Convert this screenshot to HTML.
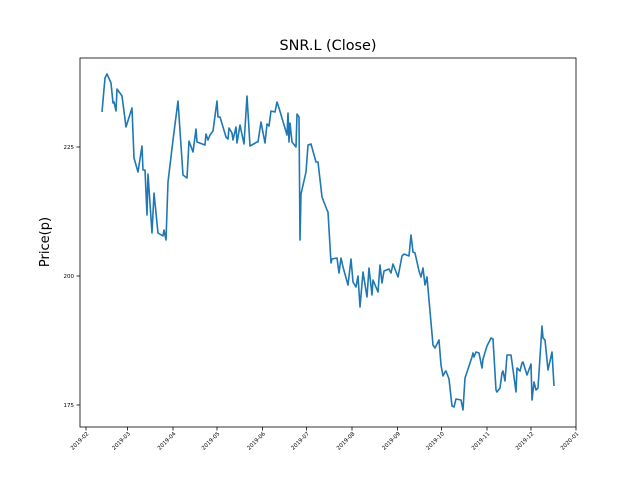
<!DOCTYPE html>
<html><head><meta charset="utf-8"><style>
html,body{margin:0;padding:0;background:#fff;}
svg{display:block;font-family:"DejaVu Sans","Liberation Sans",sans-serif;}
</style></head><body>
<svg width="640" height="480" viewBox="0 0 640 480" xmlns="http://www.w3.org/2000/svg">
<rect width="640" height="480" fill="#fff"/>
<text x="328" y="50" font-size="14.4" text-anchor="middle" fill="#000">SNR.L (Close)</text>
<text x="49" y="242" font-size="13" text-anchor="middle" fill="#000" transform="rotate(-90 49 242)">Price(p)</text>
<g stroke="#000" stroke-width="0.8">
<line x1="80" y1="147" x2="76.5" y2="147"/><line x1="80" y1="276" x2="76.5" y2="276"/><line x1="80" y1="405" x2="76.5" y2="405"/>
</g>
<g font-size="5.5" text-anchor="end" fill="#000">
<text x="74" y="149">225</text><text x="74" y="278">200</text><text x="74" y="407">175</text>
</g>
<g stroke="#000" stroke-width="0.8">
<line x1="86" y1="427" x2="86" y2="430.5"/><line x1="127.5" y1="427" x2="127.5" y2="430.5"/><line x1="173" y1="427" x2="173" y2="430.5"/><line x1="217" y1="427" x2="217" y2="430.5"/><line x1="262.5" y1="427" x2="262.5" y2="430.5"/><line x1="306.5" y1="427" x2="306.5" y2="430.5"/><line x1="352" y1="427" x2="352" y2="430.5"/><line x1="397.5" y1="427" x2="397.5" y2="430.5"/><line x1="441.5" y1="427" x2="441.5" y2="430.5"/><line x1="487" y1="427" x2="487" y2="430.5"/><line x1="531" y1="427" x2="531" y2="430.5"/><line x1="576" y1="427" x2="576" y2="430.5"/>
</g>
<g font-size="5.5" text-anchor="end" fill="#000">
<text transform="translate(89,434) rotate(-45)">2019-02</text>
<text transform="translate(130.5,434) rotate(-45)">2019-03</text>
<text transform="translate(176,434) rotate(-45)">2019-04</text>
<text transform="translate(220,434) rotate(-45)">2019-05</text>
<text transform="translate(265.5,434) rotate(-45)">2019-06</text>
<text transform="translate(309.5,434) rotate(-45)">2019-07</text>
<text transform="translate(355,434) rotate(-45)">2019-08</text>
<text transform="translate(400.5,434) rotate(-45)">2019-09</text>
<text transform="translate(444.5,434) rotate(-45)">2019-10</text>
<text transform="translate(490,434) rotate(-45)">2019-11</text>
<text transform="translate(534,434) rotate(-45)">2019-12</text>
<text transform="translate(579,434) rotate(-45)">2020-01</text>
</g>
<polyline fill="none" stroke="#1f77b4" stroke-width="1.6" stroke-linejoin="round" points="102,112 105,78 107,74 111,83 113,103 114,102 116,111 117,89 122,96 126,127 132,108 134,158 138,172 142,146 143,170 145,170 147,215 148,174 152,233 154,193 158,233 163,236 164,230 166,240 168,182 173,140 178,101 183,175 187,178 189,141 193,152 196,129 197,142 205,145 206,134 208,140 210,135 213,131 217,101 218,117 220,117 226,137 228,139 229,128 232,133 233,140 236,127 237,143 240,125 244,144 247,96 250,146 257,142 258,142 261,122 265,143 267,124 269,126 271,111 275,112 277,102 279,108 287,135 288,113 289,142 290,123 292,142 296,147 297,114 299,117 300,240 301,194 306,172 308,145 311,144 316,162 318,162 322,197 327,210 328,212 331,263 332,259 337,258 339,273 341,258 343,267 348,285 351,259 353,282 356,287 358,276 360,307 363,272 367,297 369,268 372,295 373,280 378,292 380,265 382,283 384,271 389,269 391,273 393,264 398,277 402,256 404,254 409,256 411,235 413,252 415,253 419,271 421,277 423,268 425,285 427,277 429,300 433,345 435,348 439,340 441,365 443,376 445,372 446,371 449,379 452,406 454,407 456,399 461,400 463,410 465,378 472,357 473,353 474,357 476,352 479,353 482,368 483,359 487,346 491,338 493,339 496,390 497,392 500,388 502,373 503,371 505,381 507,355 511,355 514,377 516,392 517,368 520,371 522,363 523,362 527,375 531,364 532,400 534,382 536,390 538,388 542,326 543,338 545,340 548,370 552,352 554,386"/>
<rect x="80" y="58" width="496" height="369" fill="none" stroke="#000" stroke-width="0.8"/>
</svg>
</body></html>
